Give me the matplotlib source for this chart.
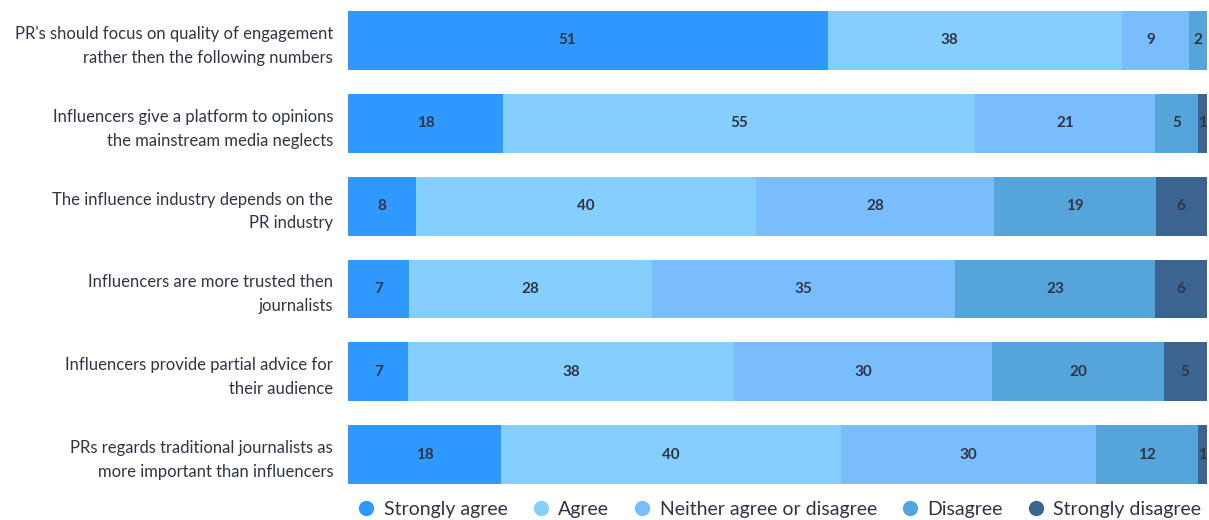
import matplotlib
matplotlib.use("Agg")
import matplotlib.pyplot as plt
import numpy as np

plt.rcParams["font.family"] = ["Lato", "DejaVu Sans"]

statements = [
    "PR's should focus on quality of engagement\nrather then the following numbers",
    "Influencers give a platform to opinions\nthe mainstream media neglects",
    "The influence industry depends on the\nPR industry",
    "Influencers are more trusted then\njournalists",
    "Influencers provide partial advice for\ntheir audience",
    "PRs regards traditional journalists as\nmore important than influencers",
]
categories = ["Strongly agree", "Agree", "Neither agree or disagree", "Disagree", "Strongly disagree"]

# numbers printed on the segments
strongly_agree = [51, 18, 8, 7, 7, 18]
agree = [38, 55, 40, 28, 38, 40]
neither = [9, 21, 28, 35, 30, 30]
disagree = [2, 5, 19, 23, 20, 12]
strongly_disagree = [0, 1, 6, 6, 5, 1]

# segment widths as drawn (first row's bar does not match its printed numbers)
strongly_agree_w = [55.9, 18, 8, 7, 7, 18]
agree_w = [34.3, 55, 40, 28, 38, 40]
neither_w = [7.7, 21, 28, 35, 30, 30]
disagree_w = [2.1, 5, 19, 23, 20, 12]
strongly_disagree_w = [0, 1, 6, 6, 5, 1]

colors = ["#2f99ff", "#85cfff", "#7abdfd", "#55a4da", "#3b6590"]
TEXT = "#2f3545"

labels = np.array([strongly_agree, agree, neither, disagree, strongly_disagree], dtype=float)
widths = np.array([strongly_agree_w, agree_w, neither_w, disagree_w, strongly_disagree_w], dtype=float)
shares = widths / widths.sum(axis=0) * 100
# label positions follow the printed numbers
label_shares = labels / labels.sum(axis=0) * 100
label_pos = np.cumsum(label_shares, axis=0) - label_shares / 2

fig = plt.figure(figsize=(12.09, 5.2), dpi=100)
ax = fig.add_axes([0.288, 0.0692, 0.710, 0.9096])

y = np.arange(len(statements))
left = np.zeros(len(statements))
for i, (cat, col) in enumerate(zip(categories, colors)):
    ax.barh(y, shares[i], left=left, height=0.71, color=col, label=cat)
    left += shares[i]
    for j in range(len(statements)):
        if labels[i, j] > 0:
            ax.text(label_pos[i, j], y[j], f"{int(labels[i, j])}",
                    ha="center", va="center", fontsize=11, fontweight="bold", color=TEXT)

ax.set_xlim(0, 100)
ax.set_ylim(len(statements) - 1 + 0.355, -0.355)
ax.set_yticks(y)
ax.set_yticklabels(statements, fontsize=12, color=TEXT, linespacing=1.6)
ax.tick_params(axis="y", length=0, pad=10.8)
ax.set_xticks([])
for s in ax.spines.values():
    s.set_visible(False)

fig.legend(loc="center", bbox_to_anchor=(0.645, 0.02), ncol=5, frameon=False,
           fontsize=14, handlelength=0.8, handletextpad=0.5, columnspacing=1.3,
           labelcolor=TEXT,
           handles=[plt.Line2D([], [], marker="o", linestyle="", color=c, markersize=10)
                    for c in colors],
           labels=categories)

fig.savefig("out.png", dpi=100)
